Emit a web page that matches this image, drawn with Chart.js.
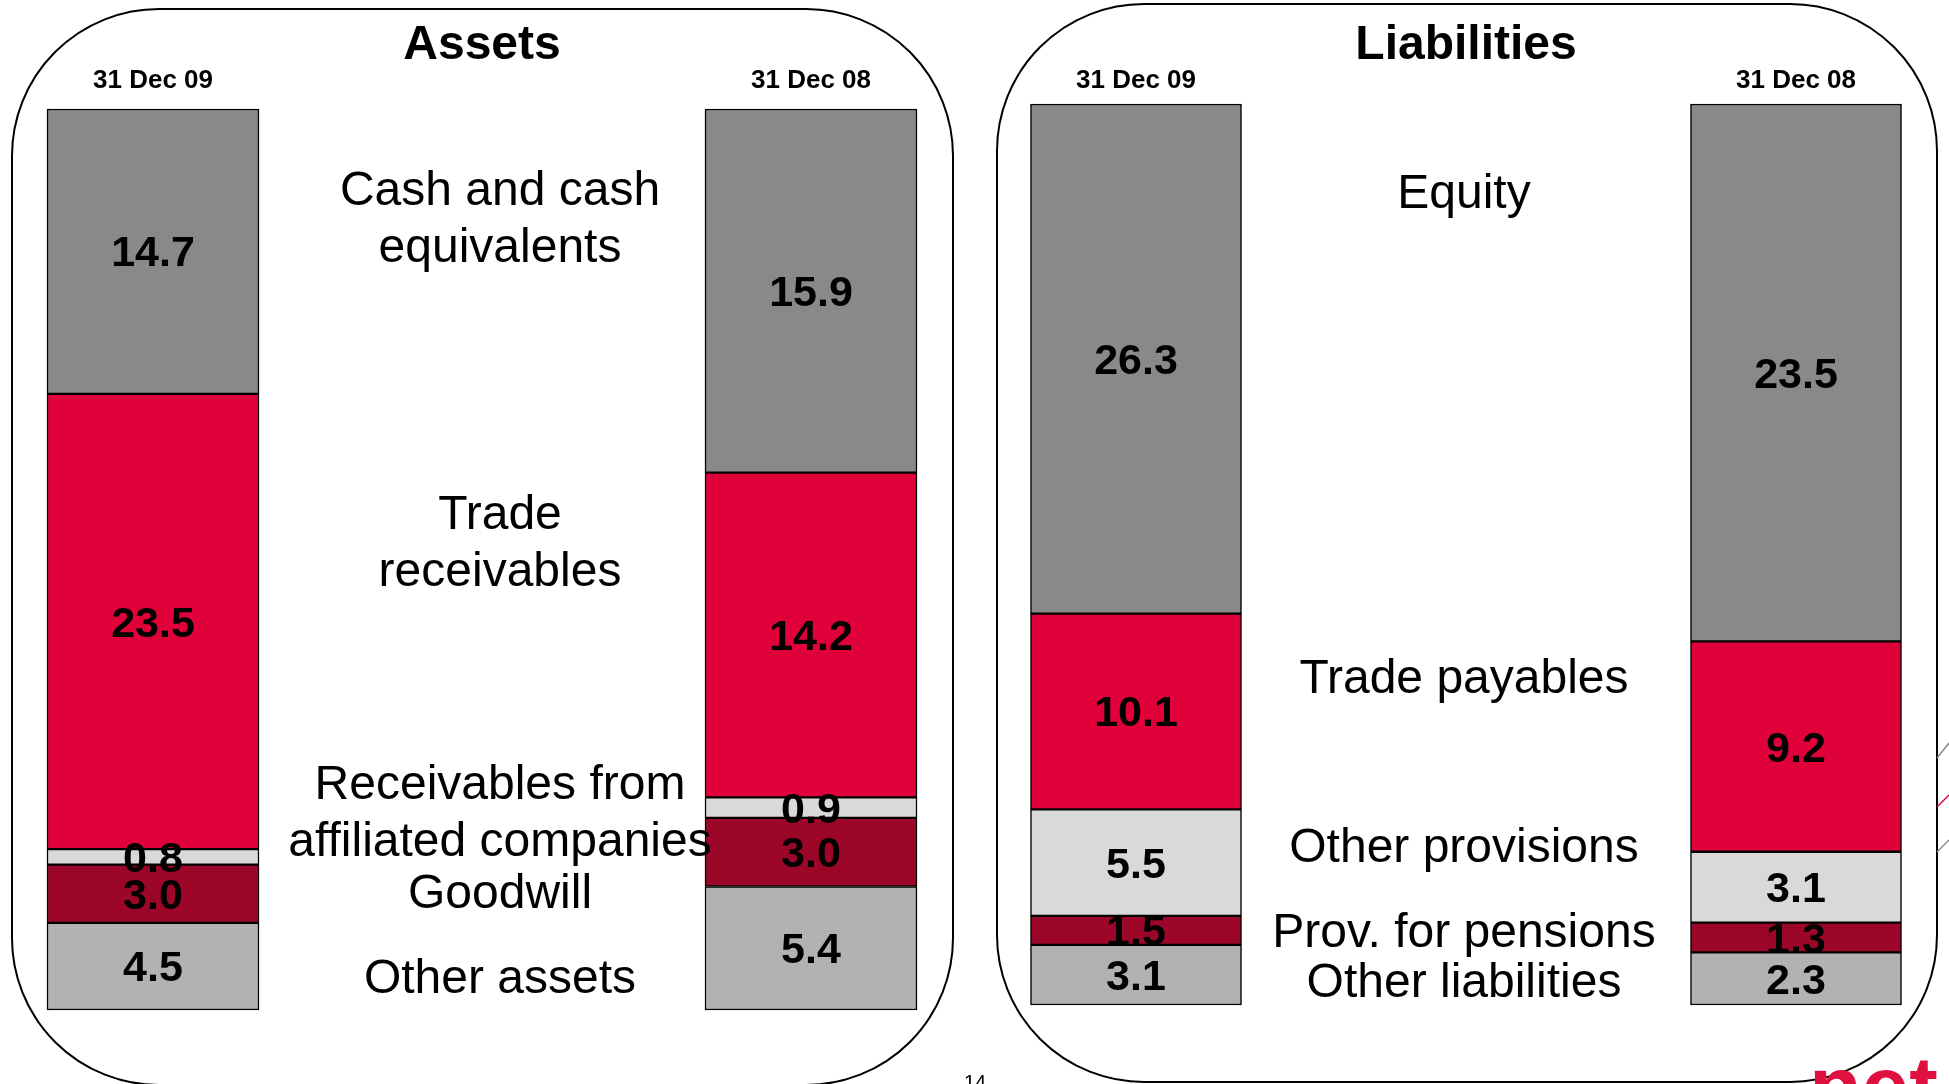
<!DOCTYPE html>
<html>
<head>
<meta charset="utf-8">
<script src="https://cdn.jsdelivr.net/npm/chart.js@4.4.1/dist/chart.umd.min.js"></script>
<style>
  body { margin: 0; background: #fff; width: 1949px; height: 1084px; overflow: hidden; position: relative;
         font-family: "Liberation Sans", Arial, sans-serif; }
  .panel { position: absolute; border: 2px solid #000; border-radius: 148px; box-sizing: border-box; }
  #assetsBox { left: 11px; top: 8px; width: 943px; height: 1078px; }
  #liabBox { left: 996px; top: 3px; width: 942px; height: 1080px; }
  .wrap { position: absolute; top: 0; }
  #pageNo { position: absolute; left: 955px; top: 1072px; width: 40px; text-align: center; font-size: 20px; line-height: 20px; }
  #logo { position: absolute; left: 1809px; top: 1043px; font-size: 86px; line-height: 86px; font-weight: bold; color: #E0103F; }
  #deco { position: absolute; left: 1930px; top: 730px; }
</style>
</head>
<body>
<div class="panel" id="assetsBox"></div>
<div class="panel" id="liabBox"></div>
<div class="wrap" style="left:0px"><canvas id="assets" width="975" height="1084"></canvas></div>
<div class="wrap" style="left:975px"><canvas id="liab" width="974" height="1084"></canvas></div>
<div id="pageNo">14</div>
<div id="logo">net</div>
<svg id="deco" width="19" height="130">
  <line x1="19" y1="13" x2="7" y2="28" stroke="#8a8a8a" stroke-width="1.5"/>
  <line x1="19" y1="65" x2="7" y2="77" stroke="#E0003A" stroke-width="1.5"/>
  <line x1="19" y1="110" x2="7" y2="122" stroke="#8a8a8a" stroke-width="1.5"/>
</svg>
<script>
// balance sheet structure, values in m EUR, stacks listed bottom -> top
const dates = ['31 Dec 09', '31 Dec 08'];

const assetNames = ['Other assets', 'Goodwill', 'Receivables from\naffiliated companies', 'Trade\nreceivables', 'Cash and cash\nequivalents'];
const otherAssets = [4.5, 5.4];
const goodwill = [3.0, 3.0];
const affiliatedRecv = [0.8, 0.9];
const tradeRecv = [23.5, 14.2];
const cashEquiv = [14.7, 15.9];

const liabNames = ['Other liabilities', 'Prov. for pensions', 'Other provisions', 'Trade payables', 'Equity'];
const otherLiab = [3.1, 2.3];
const pensions = [1.5, 1.3];
const otherProv = [5.5, 3.1];
const tradePay = [10.1, 9.2];
const equity = [26.3, 23.5];

const segColors = ['#B2B2B2', '#9C0628', '#D9D9D9', '#E0003A', '#898989'];
const FONT = '"Liberation Sans", Arial, sans-serif';
Chart.defaults.font.family = FONT;
Chart.defaults.color = '#000';

// baselines of the first line of each description (canvas px)
const assetTextY = [993, 908, 799, 529, 205];
const liabTextY = [997, 947, 862, 693, 208];

const valueLabels = {
  id: 'valueLabels',
  afterDatasetsDraw(chart) {
    const ctx = chart.ctx;
    ctx.save();
    ctx.font = 'bold 43px ' + FONT;
    ctx.fillStyle = '#000';
    ctx.textAlign = 'center';
    ctx.textBaseline = 'alphabetic';
    chart.data.datasets.forEach((ds, k) => {
      chart.getDatasetMeta(k).data.forEach((bar, i) => {
        const yc = (bar.y + bar.base) / 2;
        ctx.fillText(ds.raw[i].toFixed(1), bar.x, yc + 15);
      });
    });
    ctx.restore();
  }
};

// category descriptions in the middle + the date labels above each column
const sideText = {
  id: 'sideText',
  afterDraw(chart, args, opts) {
    const ctx = chart.ctx;
    const xs = chart.scales.x;
    ctx.save();
    ctx.fillStyle = '#000';
    ctx.textAlign = 'center';
    ctx.textBaseline = 'alphabetic';
    ctx.font = '48px ' + FONT;
    chart.data.datasets.forEach((ds, k) => {
      ds.label.split('\n').forEach((line, j) => {
        ctx.fillText(line, opts.x, opts.ys[k] + j * 57);
      });
    });
    ctx.font = 'bold 26px ' + FONT;
    chart.data.labels.forEach((lab, i) => {
      ctx.fillText(lab, xs.getPixelForValue(i), opts.dateY);
    });
    ctx.restore();
  }
};

function makeChart(id, title, names, series, lay) {
  const totals = dates.map((d, i) => series.reduce((s, v) => s + v[i], 0));
  const datasets = series.map((vals, k) => ({
    label: names[k],
    raw: vals,
    data: vals.map((v, i) => v / totals[i] * 100),
    backgroundColor: segColors[k],
    borderColor: '#000',
    borderWidth: 1.5,
    borderSkipped: false,
    barThickness: lay.barW,
    clip: false
  }));
  return new Chart(document.getElementById(id), {
    type: 'bar',
    data: { labels: dates, datasets: datasets },
    options: {
      responsive: false,
      animation: false,
      layout: { padding: { left: lay.left, right: lay.right, top: lay.top, bottom: lay.bottom } },
      plugins: {
        legend: { display: false },
        tooltip: { enabled: false },
        title: { display: true, text: title, color: '#000', padding: { top: 0, bottom: lay.titleGap },
                 font: { size: 48, weight: 'bold', lineHeight: 1 } },
        sideText: { x: lay.textX, ys: lay.textY, dateY: 88 }
      },
      scales: {
        x: { stacked: true, offset: false, display: false },
        y: { stacked: true, min: 0, max: 100, display: false }
      }
    },
    plugins: [valueLabels, sideText]
  });
}

makeChart('assets', 'Assets', assetNames,
  [otherAssets, goodwill, affiliatedRecv, tradeRecv, cashEquiv],
  { left: 153, right: 164, top: 22, bottom: 74, titleGap: 39, barW: 212, textX: 500, textY: assetTextY });

makeChart('liab', 'Liabilities', liabNames,
  [otherLiab, pensions, otherProv, tradePay, equity],
  { left: 161, right: 153, top: 22, bottom: 79, titleGap: 34, barW: 211, textX: 489, textY: liabTextY });
</script>
</body>
</html>
